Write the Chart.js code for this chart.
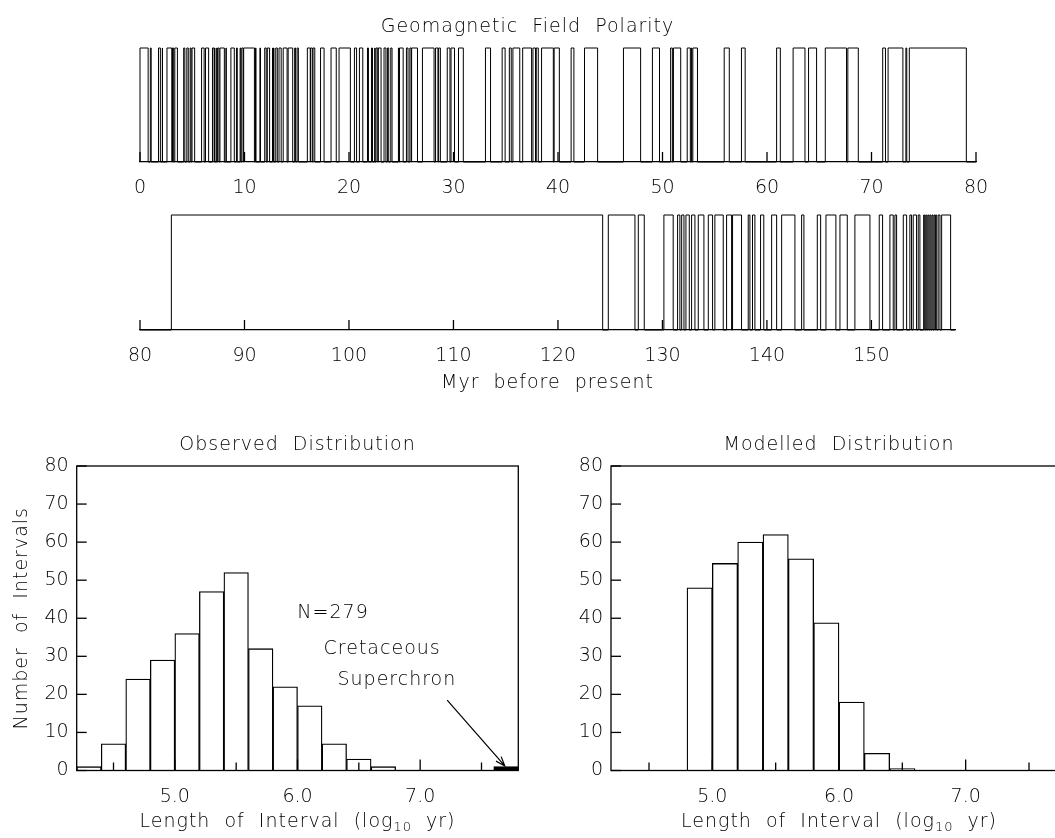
<!DOCTYPE html>
<html>
<head>
<meta charset="utf-8">
<script src="https://cdn.jsdelivr.net/npm/chart.js@4.4.1/dist/chart.umd.min.js"></script>
<style>
  html, body { margin: 0; padding: 0; background: #fff; overflow: hidden; width: 1055px; height: 838px; }
  canvas { position: absolute; }
  #polTop { left: 0px; top: 0px; }
  #polBottom { left: 0px; top: 185px; }
  #histObs { left: 0px; top: 420px; }
  #histMod { left: 540px; top: 420px; }
</style>
</head>
<body>
<canvas id="polTop" width="1055" height="215"></canvas>
<canvas id="polBottom" width="1055" height="215"></canvas>
<canvas id="histObs" width="540" height="418"></canvas>
<canvas id="histMod" width="540" height="418"></canvas>
<script>
/* ─── Geomagnetic polarity + interval-length histograms ─────────── */

const FONT = '"DejaVu Sans", sans-serif';
const FW = 200;
const FS = 19;

// normal polarity intervals, [start, end] in Myr before present
const normalTop = [
  [0.000, 0.780], [0.990, 1.070], [1.770, 1.950], [2.140, 2.150], [2.581, 3.040], [3.110, 3.220],
  [3.330, 3.580], [4.180, 4.290], [4.480, 4.620], [4.800, 4.890], [4.980, 5.230], [5.894, 6.137],
  [6.269, 6.567], [6.935, 7.091], [7.135, 7.170], [7.341, 7.375], [7.432, 7.562], [7.650, 8.072],
  [8.225, 8.257], [8.699, 9.025], [9.230, 9.308], [9.580, 9.642], [9.740, 9.880], [9.920, 10.949],
  [11.052, 11.099], [11.476, 11.531], [11.935, 12.078], [12.184, 12.401], [12.678, 12.708],
  [12.775, 12.819], [12.991, 13.139], [13.302, 13.510], [13.703, 14.076], [14.178, 14.612],
  [14.800, 14.888], [15.034, 15.155], [16.014, 16.293], [16.327, 16.488], [16.556, 16.726],
  [17.277, 17.615], [18.281, 18.781], [19.048, 20.131], [20.518, 20.725], [20.996, 21.320],
  [21.768, 21.859], [22.151, 22.248], [22.459, 22.493], [22.588, 22.750], [22.804, 23.069],
  [23.353, 23.535], [23.677, 23.800], [23.999, 24.118], [24.730, 24.781], [24.835, 25.183],
  [25.496, 25.648], [25.823, 25.951], [25.992, 26.554], [27.027, 28.141], [28.283, 28.512],
  [28.578, 28.745], [29.401, 29.662], [29.765, 30.098], [30.479, 30.939], [33.058, 33.545],
  [34.655, 34.940], [35.343, 35.526], [35.685, 36.341], [36.618, 37.473], [37.604, 37.848],
  [37.920, 38.113], [38.426, 39.552], [39.631, 40.130], [41.257, 41.521], [42.536, 43.789],
  [46.264, 47.906], [49.037, 49.714], [50.778, 50.946], [51.047, 51.743], [52.364, 52.663],
  [52.757, 52.801], [52.903, 53.347], [55.904, 56.391], [57.554, 57.911], [60.920, 61.276],
  [62.499, 63.634], [63.976, 64.745], [65.578, 67.610], [67.735, 68.737], [71.071, 71.338],
  [71.587, 73.004], [73.291, 73.374], [73.619, 79.075]
];

const normalBottom = [
  [83.00, 124.28], [124.82, 127.37], [127.69, 128.26], [130.14, 131.03], [131.45, 131.67],
  [131.84, 132.06], [132.25, 132.57], [132.79, 133.11], [133.43, 133.97], [134.39, 134.80],
  [135.02, 135.82], [136.14, 136.62], [136.71, 137.57], [138.21, 138.37], [138.62, 138.85],
  [139.39, 139.70], [140.45, 140.93], [141.41, 142.68], [143.32, 143.54], [144.82, 145.14],
  [145.65, 146.60], [146.99, 147.69], [148.42, 149.86], [150.75, 151.07], [151.77, 152.09],
  [152.25, 152.41], [153.05, 153.37], [153.68, 153.84], [154.00, 154.32], [154.48, 154.64],
  [155.00, 155.10], [155.20, 155.30], [155.40, 155.50], [155.60, 155.70], [155.80, 155.90],
  [156.00, 156.10], [156.15, 156.25], [156.39, 156.56], [156.72, 157.58]
];

const topRange = [0, 80];
const bottomRange = [80, 158];
const topTicks = [0, 10, 20, 30, 40, 50, 60, 70, 80];
const bottomTicks = [80, 90, 100, 110, 120, 130, 140, 150];

// histograms: bins of 0.2 in log10(yr)
const binCentres = [4.3, 4.5, 4.7, 4.9, 5.1, 5.3, 5.5, 5.7, 5.9, 6.1, 6.3, 6.5, 6.7, 6.9, 7.1, 7.3, 7.5, 7.7];
const observedCounts = [1, 7, 24, 29, 36, 47, 52, 32, 22, 17, 7, 3, 1, 0, 0, 0, 0, 1];
const modelledCounts = [0, 0, 0, 48, 54.4, 60, 62, 55.6, 38.8, 18, 4.5, 0.5, 0, 0, 0, 0, 0, 0];
const superchronBin = 7.7;
const histXTicks = [4.5, 5.0, 5.5, 6.0, 6.5, 7.0, 7.5];
const histYTicks = [0, 10, 20, 30, 40, 50, 60, 70, 80];

function stepPoints(intervals, from, to) {
  const pts = [{ x: from, y: 0 }];
  intervals.forEach(([a, b]) => {
    pts.push({ x: a, y: 1 });
    pts.push({ x: b, y: 0 });
  });
  pts.push({ x: to, y: 0 });
  return pts;
}

function font(size) {
  return { family: FONT, size: size || FS, weight: FW };
}

function cssFont(size) {
  return FW + ' ' + size + 'px ' + FONT;
}

// tick marks drawn inside the plot area
function innerTicks(opts) {
  return {
    id: 'innerTicks',
    afterDatasetsDraw(chart) {
      const ctx = chart.ctx;
      const a = chart.chartArea;
      ctx.save();
      ctx.strokeStyle = '#000';
      ctx.lineWidth = 1.3;
      if (opts.x) {
        const sx = chart.scales.x;
        sx.ticks.forEach(t => {
          const px = sx.getPixelForValue(t.value);
          const len = Number.isInteger(t.value) || !opts.xMinor ? opts.x : opts.xMinor;
          ctx.beginPath();
          ctx.moveTo(px, a.bottom);
          ctx.lineTo(px, a.bottom - len);
          ctx.stroke();
        });
      }
      if (opts.y) {
        const sy = chart.scales.y;
        sy.ticks.forEach(t => {
          const py = sy.getPixelForValue(t.value);
          ctx.beginPath();
          ctx.moveTo(a.left, py);
          ctx.lineTo(a.left + opts.y, py);
          ctx.stroke();
        });
      }
      ctx.restore();
    }
  };
}

const framePlugin = {
  id: 'frame',
  afterDatasetsDraw(chart) {
    const { ctx, chartArea: a } = chart;
    ctx.save();
    ctx.strokeStyle = '#000';
    ctx.lineWidth = 1.3;
    ctx.strokeRect(a.left, a.top, a.right - a.left, a.bottom - a.top);
    ctx.restore();
  }
};

// text pieces; "parts" lets the subscript sit lower and smaller
function drawParts(ctx, parts, cx, cy) {
  ctx.letterSpacing = '1px';
  let total = 0;
  parts.forEach(p => { ctx.font = cssFont(p.size); p.w = ctx.measureText(p.text).width; total += p.w; });
  let x = cx - total / 2;
  parts.forEach(p => {
    ctx.font = cssFont(p.size);
    ctx.textAlign = 'left';
    ctx.textBaseline = 'middle';
    ctx.fillText(p.text, x, cy + (p.dy || 0));
    x += p.w;
  });
  ctx.letterSpacing = '0px';
}

function notes(items) {
  return {
    id: 'notes',
    afterDraw(chart) {
      const { ctx, chartArea: a, scales } = chart;
      ctx.save();
      ctx.fillStyle = '#000';
      ctx.strokeStyle = '#000';
      items.forEach(it => {
        let x, y;
        if (it.data) {
          x = scales.x.getPixelForValue(it.data[0]);
          y = scales.y.getPixelForValue(it.data[1]);
        } else {
          x = it.cx === 'canvas' ? chart.width / 2 : (a.left + a.right) / 2 + (it.dx || 0);
          y = it.from === 'top' ? a.top + it.dy : it.from === 'bottom' ? a.bottom + it.dy : (a.top + a.bottom) / 2;
        }
        if (it.arrow) {
          const x2 = scales.x.getPixelForValue(it.arrow[0]);
          const y2 = scales.y.getPixelForValue(it.arrow[1]);
          const ang = Math.atan2(y2 - y, x2 - x);
          ctx.lineWidth = 1.2;
          ctx.beginPath();
          ctx.moveTo(x, y);
          ctx.lineTo(x2, y2);
          ctx.moveTo(x2 - 10 * Math.cos(ang - 0.35), y2 - 10 * Math.sin(ang - 0.35));
          ctx.lineTo(x2, y2);
          ctx.lineTo(x2 - 10 * Math.cos(ang + 0.35), y2 - 10 * Math.sin(ang + 0.35));
          ctx.stroke();
          return;
        }
        if (it.rotate) {
          ctx.save();
          ctx.translate(a.left + it.dx, y);
          ctx.rotate(-Math.PI / 2);
          drawParts(ctx, [{ text: it.text, size: FS }], 0, 0);
          ctx.restore();
          return;
        }
        drawParts(ctx, it.parts || [{ text: it.text, size: it.size || FS }], x, y);
      });
      ctx.restore();
    }
  };
}

function polarityChart(id, intervals, range, ticks, padding, extraNotes) {
  return new Chart(document.getElementById(id), {
    type: 'line',
    data: {
      datasets: [{
        data: stepPoints(intervals, range[0], range[1]),
        borderColor: '#000',
        borderWidth: 1,
        pointRadius: 0,
        stepped: true,
        fill: false,
        clip: false
      }]
    },
    options: {
      responsive: false,
      animation: false,
      events: [],
      layout: { padding },
      plugins: { legend: { display: false }, tooltip: { enabled: false } },
      scales: {
        x: {
          type: 'linear',
          min: range[0],
          max: range[1],
          grid: { display: false, drawTicks: false },
          border: { display: true, color: '#000', width: 1.3 },
          afterBuildTicks: s => { s.ticks = ticks.map(v => ({ value: v })); },
          afterFit: s => { s.height = 40; },
          ticks: { font: font(), color: '#000', padding: 15, maxRotation: 0, autoSkip: false }
        },
        y: { display: false, min: 0, max: 1 }
      }
    },
    plugins: [innerTicks({ x: 10 }), notes(extraNotes)]
  });
}

// top panel: 0-80 Myr, plot area 140..976 x 48..162
polarityChart('polTop', normalTop, topRange, topTicks,
  { left: 140, right: 79, top: 48, bottom: 13 },
  [{ text: 'Geomagnetic  Field  Polarity', cx: 'canvas', from: 'top', dy: -21 }]);

// second panel: 80-158 Myr, plot area 140..955 x 215..330 (canvas top 185)
polarityChart('polBottom', normalBottom, bottomRange, bottomTicks,
  { left: 140, right: 100, top: 30, bottom: 30 },
  [{ text: 'Myr  before  present', from: 'bottom', dy: 53 }]);

function histChart(id, counts, padding, fills, title, extra) {
  return new Chart(document.getElementById(id), {
    type: 'bar',
    data: {
      datasets: [{
        data: binCentres.map((c, i) => ({ x: c, y: counts[i] })),
        backgroundColor: fills,
        borderColor: '#000',
        borderWidth: 1.3,
        barPercentage: 1,
        categoryPercentage: 1
      }]
    },
    options: {
      responsive: false,
      animation: false,
      events: [],
      layout: { padding },
      plugins: { legend: { display: false }, tooltip: { enabled: false } },
      scales: {
        x: {
          type: 'linear',
          min: 4.2,
          max: 7.8,
          offset: false,
          grid: { display: false, drawTicks: false },
          border: { display: false },
          afterBuildTicks: s => { s.ticks = histXTicks.map(v => ({ value: v })); },
          afterFit: s => { s.height = 60; },
          ticks: {
            font: font(), color: '#000', padding: 15, maxRotation: 0, autoSkip: false,
            callback: v => Number.isInteger(v) ? v.toFixed(1) : ''
          }
        },
        y: {
          min: 0,
          max: 80,
          grid: { display: false, drawTicks: false },
          border: { display: false },
          afterBuildTicks: s => { s.ticks = histYTicks.map(v => ({ value: v })); },
          afterFit: s => { s.width = 40; },
          ticks: { font: font(), color: '#000', padding: 8 }
        }
      }
    },
    plugins: [framePlugin, innerTicks({ x: 11, xMinor: 8, y: 10 }), notes([
      { text: title, from: 'top', dy: -21 },
      { from: 'bottom', dy: 52, parts: [
        { text: 'Length  of  Interval  (log', size: FS },
        { text: '10', size: 13, dy: 5 },
        { text: '  yr)', size: FS }
      ] }
    ].concat(extra))]
  });
}

const obsFills = binCentres.map(c => c === superchronBin ? '#000' : '#fff');
const modFills = binCentres.map(() => '#fff');

histChart('histObs', observedCounts, { left: 36.7, right: 21.7, top: 46, bottom: 7.5 }, obsFills,
  'Observed  Distribution', [
    { rotate: true, text: 'Number  of  Intervals', dx: -55 },
    { text: 'N=279', data: [6.29, 41.4] },
    { text: 'Cretaceous', data: [6.69, 31.9] },
    { text: 'Superchron', data: [6.81, 23.8] },
    { data: [7.22, 18.5], arrow: [7.69, 1.2] }
  ]);

histChart('histMod', modelledCounts, { left: 31, right: 13, top: 46, bottom: 7.5 }, modFills,
  'Modelled  Distribution', []);
</script>
</body>
</html>
